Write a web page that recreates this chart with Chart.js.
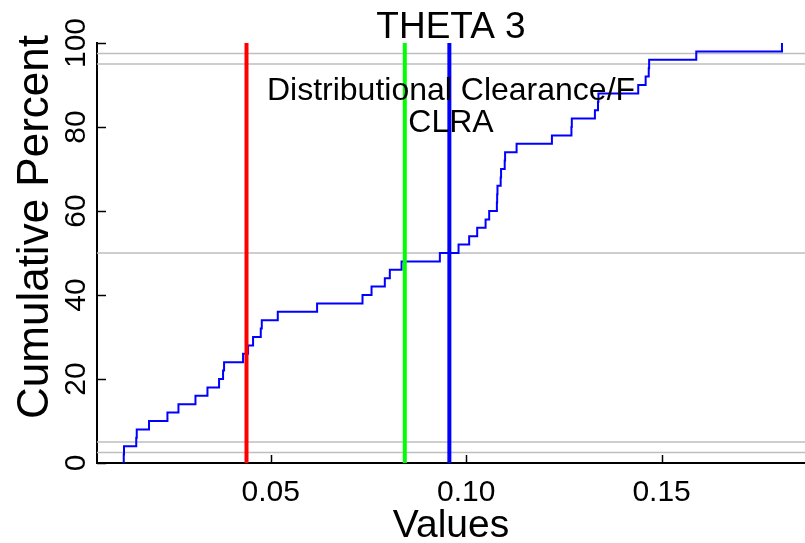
<!DOCTYPE html>
<html>
<head>
<meta charset="utf-8">
<script src="https://cdn.jsdelivr.net/npm/chart.js@4.4.1/dist/chart.umd.min.js"></script>
<style>
  html, body { margin: 0; padding: 0; background: #fff; }
</style>
</head>
<body>
<canvas id="myChart" width="805" height="543"></canvas>
<script>
// sorted sample values of THETA 3
const sampleValues = [
  0.01239, 0.01246, 0.01559, 0.01572, 0.01886, 0.02357, 0.02639, 0.03074, 0.03381, 0.03678,
  0.03780, 0.03806, 0.04292, 0.04420, 0.04548, 0.04745, 0.04771, 0.05180, 0.06186, 0.07348,
  0.07579, 0.07919, 0.08047, 0.08347, 0.09327, 0.09805, 0.10077, 0.10282, 0.10497, 0.10589,
  0.10786, 0.10793, 0.10801, 0.10883, 0.10893, 0.10986, 0.10996, 0.11290, 0.12194, 0.12693,
  0.12703, 0.13294, 0.13373, 0.13384, 0.14402, 0.14592, 0.14671, 0.14681, 0.15887, 0.18080
]
const cumPercent = [
  2, 4, 6, 8, 10, 12, 14, 16, 18, 20,
  22, 24, 26, 28, 30, 32, 34, 36, 38, 40,
  42, 44, 46, 48, 50, 52, 54, 56, 58, 60,
  62, 64, 66, 68, 70, 72, 74, 76, 78, 80,
  82, 84, 86, 88, 90, 92, 94, 96, 98, 100
]
const percentLines = [2.5, 5, 50, 95, 97.5]
const markerValues = [0.0438, 0.0843, 0.0957]
const markerColors = ['#ff0000', '#00ff00', '#0000ff']
const xTicks = [0.05, 0.10, 0.15]
const xTickLabels = ['0.05', '0.10', '0.15']
const yTicks = [0, 20, 40, 60, 80, 100]
const xMin = 0.00555
const xMax = 0.18669

const FONT = '"Liberation Sans", Arial, sans-serif'

// vertical marker lines go first so they are drawn on top
let datasets = []
markerValues.forEach((v, i) => {
  datasets.push({
    data: [{x: v, y: 0}, {x: v, y: 100}],
    borderColor: markerColors[i],
    borderWidth: 4,
    pointRadius: 0
  })
})
let ecdf = [{x: sampleValues[0], y: 0}]
sampleValues.forEach((v, i) => ecdf.push({x: v, y: cumPercent[i]}))
datasets.push({
  data: ecdf,
  borderColor: '#0000ff',
  borderWidth: 2,
  stepped: 'before',
  pointRadius: 0
})
percentLines.forEach(p => {
  datasets.push({
    data: [{x: xMin, y: p}, {x: xMax, y: p}],
    borderColor: '#bebebe',
    borderWidth: 1.5,
    pointRadius: 0
  })
})

function txt(ctx, s, x, y, size, rot) {
  ctx.save()
  ctx.translate(x, y)
  if (rot) ctx.rotate(rot)
  ctx.font = size + 'px ' + FONT
  ctx.fillText(s, 0, 0)
  ctx.restore()
}

const rPlotText = {
  id: 'rPlotText',
  afterDraw(chart) {
    const {ctx, chartArea: a, scales: {x, y}} = chart
    ctx.save()
    // inward ticks
    ctx.strokeStyle = '#000'
    ctx.lineWidth = 1.5
    xTicks.forEach(v => {
      const px = Math.round(x.getPixelForValue(v)) + 0.5
      ctx.beginPath(); ctx.moveTo(px, a.bottom); ctx.lineTo(px, a.bottom - 8); ctx.stroke()
    })
    yTicks.forEach(v => {
      const py = Math.round(y.getPixelForValue(v)) + 0.5
      ctx.beginPath(); ctx.moveTo(a.left, py); ctx.lineTo(a.left + 9, py); ctx.stroke()
    })
    ctx.fillStyle = '#000'
    ctx.textAlign = 'center'
    ctx.textBaseline = 'alphabetic'
    xTicks.forEach((v, i) => txt(ctx, xTickLabels[i], x.getPixelForValue(v), 501, 30))
    yTicks.forEach(v => txt(ctx, String(v), 85, y.getPixelForValue(v), 30, -Math.PI / 2))
    const cx = (a.left + a.right) / 2
    txt(ctx, 'Values', cx, 537, 39)
    txt(ctx, 'Cumulative Percent', 48, 227, 44, -Math.PI / 2)
    txt(ctx, 'THETA 3', cx, 38, 37)
    txt(ctx, 'Distributional Clearance/F', cx, 100, 32)
    txt(ctx, 'CLRA', cx, 132, 32)
    ctx.restore()
  }
}

new Chart(document.getElementById('myChart'), {
  type: 'line',
  data: { datasets },
  options: {
    responsive: false,
    animation: false,
    devicePixelRatio: 1,
    layout: { padding: { top: 43, right: 0, left: 0, bottom: 0 } },
    plugins: { legend: { display: false }, tooltip: { enabled: false } },
    scales: {
      x: {
        type: 'linear',
        min: xMin,
        max: xMax,
        afterBuildTicks: s => { s.ticks = xTicks.map(v => ({value: v})) },
        afterFit: s => { s.height = 80 },
        ticks: { display: false },
        grid: { display: false },
        border: { display: true, color: '#000', width: 2 }
      },
      y: {
        type: 'linear',
        min: 0,
        max: 100,
        afterBuildTicks: s => { s.ticks = yTicks.map(v => ({value: v})) },
        afterFit: s => { s.width = 97 },
        ticks: { display: false },
        grid: { display: false },
        border: { display: true, color: '#000', width: 2 }
      }
    }
  },
  plugins: [rPlotText]
})
</script>
</body>
</html>
